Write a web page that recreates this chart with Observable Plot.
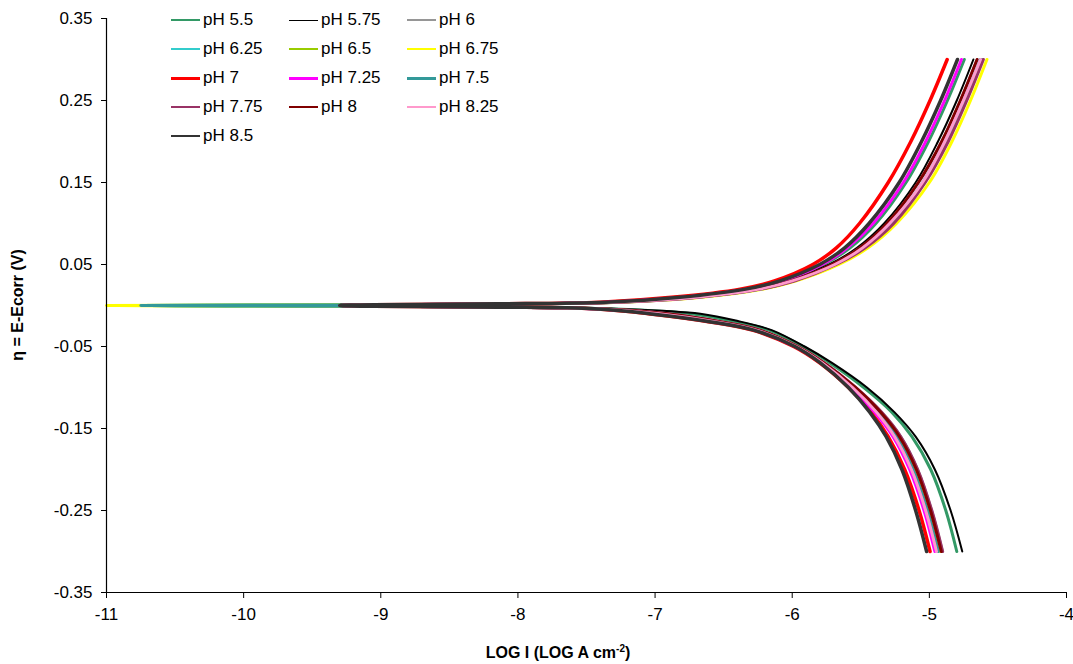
<!DOCTYPE html>
<html>
<head>
<meta charset="utf-8">
<script src="https://cdn.jsdelivr.net/npm/d3@7"></script>
<script src="https://cdn.jsdelivr.net/npm/@observablehq/plot@0.6"></script>
<style>
  html, body { margin: 0; padding: 0; background: #fff; }
  #wrap { position: relative; width: 1073px; height: 664px; font-family: "Liberation Sans", Arial, sans-serif; color: #000; }
  #wrap svg { position: absolute; left: 0; top: 0; }
  .ytitle { position: absolute; left: 18px; top: 305px; transform: translate(-50%, -50%) rotate(-90deg); white-space: nowrap; font-weight: bold; font-size: 16px; }
  .xtitle { position: absolute; left: 558px; top: 653px; transform: translate(-50%, -50%); white-space: nowrap; font-weight: bold; font-size: 16px; }
  .xtitle sup { font-size: 10px; vertical-align: 6px; line-height: 0; }
  .leg { position: absolute; height: 20px; display: flex; align-items: center; font-size: 17px; white-space: nowrap; }
  .leg .sw { width: 29px; margin-right: 3px; }
</style>
</head>
<body>
<div id="wrap"></div>
<script>
// ---- data ----
const labels = ["pH 5.5", "pH 5.75", "pH 6", "pH 6.25", "pH 6.5", "pH 6.75", "pH 7",
                "pH 7.25", "pH 7.5", "pH 7.75", "pH 8", "pH 8.25", "pH 8.5"];
const colors = ["#339966", "#000000", "#969696", "#33CCCC", "#99CC00", "#FFFF00", "#FF0000",
                "#FF00FF", "#339999", "#993366", "#800000", "#FF99CC", "#333333"];
const widths = [3, 2, 2.5, 3, 2.5, 3, 3.5, 3, 3, 3, 3, 3, 3.5];
const legendWidths = [2, 1, 2, 2, 2, 2, 3, 3, 3, 2, 2, 2, 2];

// overpotential η (V), shared by all series
const eta = [-0.3, -0.25, -0.2, -0.16, -0.13, -0.1, -0.07, -0.05, -0.03, -0.02, -0.01, -0.004, -0.002, -0.001,
             0, 0.001, 0.002, 0.004, 0.01, 0.02, 0.03, 0.05, 0.07, 0.1, 0.15, 0.2, 0.25, 0.3];

// log I (log A cm-2) read for each pH
const logI_pH5_5  = [-4.80, -4.88, -4.99, -5.127, -5.274, -5.478, -5.725, -5.92, -6.17, -6.41, -6.735, -7.33, -8.05, -8.95,
                     -10.75, -8.95, -8.05, -7.34, -6.79, -6.31, -6.06, -5.77, -5.58, -5.39, -5.17, -5.006, -4.868, -4.745];
const logI_pH5_75 = [-4.76, -4.845, -4.96, -5.10, -5.255, -5.455, -5.71, -5.91, -6.15, -6.37, -6.67, -7.30, -8.0, -8.9,
                     -9.4, -8.9, -8.0, -7.30, -6.74, -6.27, -6.02, -5.73, -5.53, -5.33, -5.10, -4.937, -4.80, -4.679];
const logI_pH6    = [-4.903, -4.982, -5.085, -5.208, -5.349, -5.537, -5.765, -5.96, -6.235, -6.51, -6.90, -7.39, -8.1, -9.0,
                     -10.2, -9.0, -8.1, -7.29, -6.72, -6.25, -6.01, -5.71, -5.51, -5.31, -5.08, -4.91, -4.774, -4.652];
const logI_pH6_25 = [-4.934, -5.013, -5.117, -5.239, -5.374, -5.555, -5.78, -5.97, -6.25, -6.54, -6.95, -7.41, -8.1, -9.0,
                     -10.75, -9.0, -8.1, -7.28, -6.70, -6.24, -6.00, -5.69, -5.49, -5.29, -5.05, -4.887, -4.751, -4.63];
const logI_pH6_5  = [-4.924, -5.004, -5.107, -5.229, -5.366, -5.55, -5.77, -5.97, -6.25, -6.53, -6.94, -7.41, -8.1, -9.0,
                     -10.05, -9.0, -8.1, -7.27, -6.69, -6.23, -5.99, -5.69, -5.48, -5.28, -5.04, -4.877, -4.741, -4.62];
const logI_pH6_75 = [-4.92, -5.0, -5.105, -5.228, -5.365, -5.55, -5.77, -5.97, -6.25, -6.53, -6.94, -7.41, -8.1, -9.0,
                     -11.0, -9.0, -8.1, -7.25, -6.66, -6.21, -5.97, -5.66, -5.45, -5.24, -5.00, -4.835, -4.70, -4.58];
const logI_pH7    = [-4.995, -5.075, -5.18, -5.30, -5.425, -5.59, -5.80, -5.99, -6.29, -6.60, -7.05, -7.45, -8.15, -9.05,
                     -9.3, -9.05, -8.15, -7.40, -6.88, -6.38, -6.13, -5.85, -5.68, -5.51, -5.30, -5.135, -4.995, -4.87];
const logI_pH7_25 = [-4.96, -5.039, -5.144, -5.265, -5.40, -5.57, -5.79, -5.98, -6.27, -6.57, -6.99, -7.43, -8.1, -9.0,
                     -9.3, -9.0, -8.1, -7.35, -6.80, -6.32, -6.07, -5.78, -5.60, -5.41, -5.19, -5.027, -4.889, -4.766];
const logI_pH7_5  = [-4.934, -5.013, -5.117, -5.239, -5.374, -5.555, -5.78, -5.97, -6.25, -6.54, -6.95, -7.41, -8.1, -9.0,
                     -10.75, -9.0, -8.1, -7.27, -6.69, -6.23, -5.99, -5.69, -5.48, -5.28, -5.04, -4.877, -4.741, -4.62];
const logI_pH7_75 = [-4.903, -4.982, -5.085, -5.208, -5.349, -5.537, -5.765, -5.96, -6.235, -6.51, -6.90, -7.39, -8.1, -9.0,
                     -9.3, -9.0, -8.1, -7.26, -6.68, -6.23, -5.98, -5.68, -5.47, -5.26, -5.03, -4.862, -4.727, -4.606];
const logI_pH8    = [-4.913, -4.992, -5.095, -5.218, -5.357, -5.54, -5.77, -5.96, -6.24, -6.52, -6.92, -7.40, -8.1, -9.0,
                     -9.3, -9.0, -8.1, -7.29, -6.72, -6.25, -6.01, -5.71, -5.51, -5.31, -5.08, -4.91, -4.774, -4.652];
const logI_pH8_25 = [-4.948, -5.027, -5.131, -5.253, -5.386, -5.56, -5.78, -5.97, -6.26, -6.55, -6.97, -7.42, -8.1, -9.0,
                     -9.3, -9.0, -8.1, -7.28, -6.70, -6.24, -6.00, -5.69, -5.49, -5.29, -5.05, -4.887, -4.751, -4.627];
const logI_pH8_5  = [-5.02, -5.10, -5.20, -5.315, -5.435, -5.59, -5.795, -5.98, -6.28, -6.59, -7.04, -7.44, -8.15, -9.05,
                     -9.3, -9.05, -8.15, -7.36, -6.82, -6.34, -6.09, -5.80, -5.62, -5.44, -5.22, -5.057, -4.918, -4.795];

const xTicks = [-11, -10, -9, -8, -7, -6, -5, -4];
const yTicks = [-0.35, -0.25, -0.15, -0.05, 0.05, 0.15, 0.25, 0.35];

const seriesLogI = [logI_pH5_5, logI_pH5_75, logI_pH6, logI_pH6_25, logI_pH6_5, logI_pH6_75, logI_pH7,
                    logI_pH7_25, logI_pH7_5, logI_pH7_75, logI_pH8, logI_pH8_25, logI_pH8_5];

// ---- build table ----
const rows = [];
labels.forEach((lab, i) => {
  eta.forEach((e, j) => rows.push({ series: lab, eta: e, logI: seriesLogI[i][j] }));
});

const lineMarks = labels.map((lab, i) =>
  Plot.line(rows.filter(r => r.series === lab), {
    x: "logI", y: "eta", stroke: "series", strokeWidth: widths[i], curve: "catmull-rom"
  })
);

const chart = Plot.plot({
  width: 1073,
  height: 664,
  marginLeft: 106,
  marginRight: 7,
  marginTop: 18,
  marginBottom: 72,
  style: { fontFamily: "'Liberation Sans', Arial, sans-serif", fontSize: "17px", color: "#000", background: "transparent", overflow: "visible" },
  x: { domain: [-11, -4] },
  y: { domain: [-0.35, 0.35] },
  color: { domain: labels, range: colors },
  marks: [
    ...lineMarks,
    Plot.axisX({ ticks: xTicks, tickFormat: d => String(d), tickSize: 6, tickPadding: 9, label: null, stroke: "#000" }),
    Plot.axisY({ ticks: yTicks, tickFormat: d => d.toFixed(2), tickSize: 5, tickPadding: 9, label: null, stroke: "#000" }),
    Plot.ruleX([-11], { stroke: "#000", strokeWidth: 1.2 }),
    Plot.ruleY([-0.35], { stroke: "#000", strokeWidth: 1.2 })
  ]
});

const wrap = document.getElementById("wrap");
wrap.appendChild(chart);

// axis titles
const yt = document.createElement("div");
yt.className = "ytitle";
yt.textContent = "η = E-Ecorr (V)";
wrap.appendChild(yt);
const xt = document.createElement("div");
xt.className = "xtitle";
xt.innerHTML = "LOG I (LOG A cm<sup>-2</sup>)";
wrap.appendChild(xt);

// legend (3 columns)
labels.forEach((lab, i) => {
  const col = i % 3, row = Math.floor(i / 3);
  const d = document.createElement("div");
  d.className = "leg";
  d.style.left = (171 + col * 118) + "px";
  d.style.top = (10 + row * 29) + "px";
  const sw = document.createElement("div");
  sw.className = "sw";
  sw.style.borderTop = legendWidths[i] + "px solid " + colors[i];
  d.appendChild(sw);
  const t = document.createElement("span");
  t.textContent = lab;
  d.appendChild(t);
  wrap.appendChild(d);
});
</script>
</body>
</html>
